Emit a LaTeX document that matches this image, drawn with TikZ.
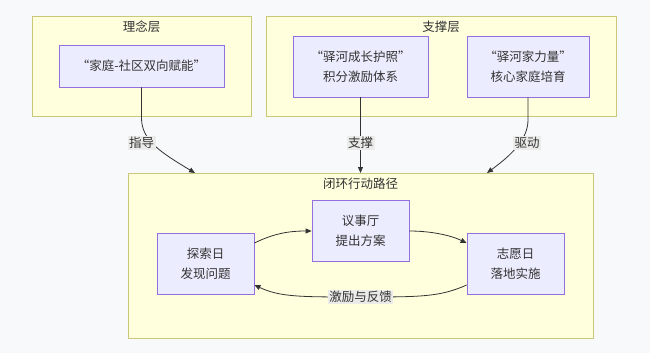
\documentclass[tikz,border=0pt]{standalone}
\usepackage{fontspec}
\setmainfont{Noto Sans CJK SC}
\usetikzlibrary{arrows.meta}
\definecolor{bgc}{HTML}{F8F9FB}
\definecolor{clfill}{HTML}{FFFFDE}
\definecolor{cldraw}{HTML}{C8C878}
\definecolor{ndfill}{HTML}{ECECFF}
\definecolor{nddraw}{HTML}{9370DB}
\definecolor{txt}{HTML}{333333}
\definecolor{lblbg}{HTML}{EBEBEA}
\tikzset{
  cluster/.style={draw=cldraw, fill=clfill, line width=0.8pt},
  box/.style={draw=nddraw, fill=ndfill, line width=0.8pt, text=txt, align=center, inner sep=0pt, font=\fontsize{12.5}{20}\selectfont},
  ctitle/.style={text=txt, inner sep=0pt, font=\fontsize{12.5}{15}\selectfont},
  elabel/.style={fill=lblbg, text=txt, inner sep=1.5pt, font=\fontsize{12.5}{15}\selectfont},
  conn/.style={draw=txt, line width=0.8pt, -{Triangle[length=6pt,width=5pt]}},
}
\begin{document}
\begin{tikzpicture}[x=1pt,y=-1pt]
\fill[bgc] (0,0) rectangle (650,353);
\useasboundingbox (0,0) rectangle (650,353);
% clusters
\draw[cluster] (32,16) rectangle (251,116);
\node[ctitle] (c1t) at (141.5,27) {理念层};
\draw[cluster] (266,16) rectangle (616,116);
\node[ctitle] (c2t) at (441,27) {支撑层};
\draw[cluster] (128,173) rectangle (593,338);
\node[ctitle] (c3t) at (360.5,184) {闭环行动路径};
% nodes
\node[box, minimum width=165pt, minimum height=42pt] (lin) at (141.5,66) {“家庭-社区双向赋能”};
\node[box, minimum width=135pt, minimum height=61pt] (hz) at (360.5,66.5) {“驿河成长护照”\\积分激励体系};
\node[box, minimum width=122pt, minimum height=61pt] (jl) at (528,66.5) {“驿河家力量”\\核心家庭培育};
\node[box, minimum width=97pt, minimum height=61pt] (ts) at (205.5,263.5) {探索日\\发现问题};
\node[box, minimum width=97pt, minimum height=61pt] (ys) at (360.5,230.5) {议事厅\\提出方案};
\node[box, minimum width=97pt, minimum height=61pt] (zy) at (515.5,263.5) {志愿日\\落地实施};
% cluster entry points
\coordinate (e1) at (195,173);
\coordinate (e2) at (360.5,173);
\coordinate (e3) at (487,173);
% edges
\draw[conn] (lin.south) -- (141.5,118) .. controls (141.5,140) and (160,152) .. (e1);
\node[elabel] (l1) at (141.5,143) {指导};
\draw[conn] (hz.south) -- (e2);
\node[elabel] (l2) at (360.5,143) {支撑};
\draw[conn] (jl.south) -- (528,120) .. controls (528,140) and (510,156) .. (e3);
\node[elabel] (l3) at (527,143) {驱动};
\draw[conn] (ts.east |- 0,243) .. controls (275,233) and (290,231) .. (ys.west |- 0,231);
\draw[conn] (ys.east |- 0,231) .. controls (430,231) and (450,235) .. (zy.west |- 0,243);
\draw[conn] (zy.west |- 0,285) .. controls (440,297) and (420,297) .. (360.5,297) .. controls (300,297) and (280,297) .. (ts.east |- 0,285);
\node[elabel] (l4) at (360.5,297) {激励与反馈};
\end{tikzpicture}
\end{document}
